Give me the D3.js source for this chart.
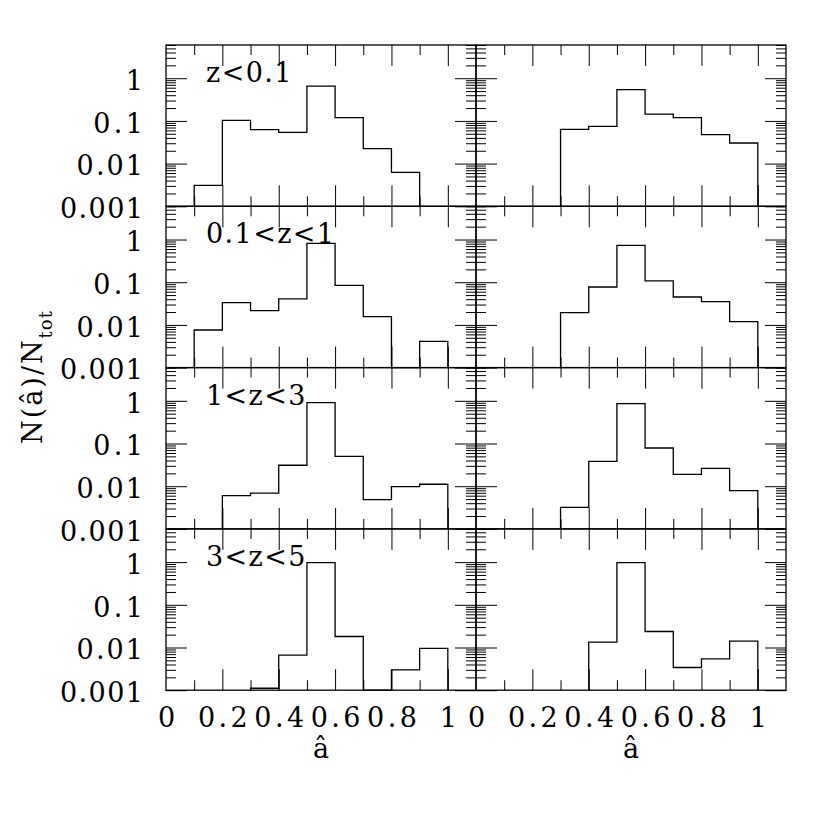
<!DOCTYPE html>
<html>
<head>
<meta charset="utf-8">
<script src="https://cdn.jsdelivr.net/npm/d3@7"></script>
<style>
  body { margin: 0; background: #ffffff; }
  text { font-family: "DejaVu Serif", "Liberation Serif", serif; font-size: 27px; fill: #000000; }
</style>
</head>
<body>
<div id="chart"></div>
<script>
// Histogram bin edges in a-hat (bin width 0.1)
var binEdges = [0.1, 0.2, 0.3, 0.4, 0.5, 0.6, 0.7, 0.8, 0.9, 1.0];

// Redshift range of each row
var rowLabels = ['z<0.1', '0.1<z<1', '1<z<3', '3<z<5'];

// N(a)/Ntot per bin, left column (0 = empty bin)
var leftRow1 = [0.0031, 0.103, 0.0625, 0.054, 0.656, 0.119, 0.0225, 0.00625, 0];
var leftRow2 = [0.0076, 0.0333, 0.0216, 0.0405, 0.815, 0.0846, 0.0156, 0, 0.0041];
var leftRow3 = [0, 0.006, 0.0069, 0.031, 0.908, 0.050, 0.00486, 0.0098, 0.0111];
var leftRow4 = [0, 0, 0.00111, 0.0066, 0.97, 0.0181, 0, 0.003, 0.0095];

// N(a)/Ntot per bin, right column
var rightRow1 = [0, 0, 0.0636, 0.0748, 0.54, 0.145, 0.119, 0.0477, 0.0304];
var rightRow2 = [0, 0, 0.0194, 0.0773, 0.731, 0.107, 0.045, 0.0351, 0.0119];
var rightRow3 = [0, 0, 0.0032, 0.0383, 0.86, 0.0785, 0.019, 0.0262, 0.0079];
var rightRow4 = [0, 0, 0, 0.0133, 0.97, 0.0237, 0.0034, 0.0054, 0.0141];

// Tick values and labels
var xTickValues = [0, 0.2, 0.4, 0.6, 0.8, 1];
var xTickLabels = ['0', '0.2', '0.4', '0.6', '0.8', '1'];
var xMajorTicks = [0.2, 0.4, 0.6, 0.8, 1.0];
var xMinorTicks = [0.1, 0.3, 0.5, 0.7, 0.9];
var yTickValues = [0.001, 0.01, 0.1, 1];
var yTickLabels = ['0.001', '0.01', '0.1', '1'];

var columns = [
  [leftRow1, leftRow2, leftRow3, leftRow4],
  [rightRow1, rightRow2, rightRow3, rightRow4]
];

// Layout
var outerWidth = 830, outerHeight = 830;
var margin = {top: 45, left: 166};
var panelWidth = 310, panelHeight = 161.3;
var majorLen = 21, minorLen = 10;
var charWidth = 16.6;

var svg = d3.select('#chart').append('svg')
  .attr('width', outerWidth)
  .attr('height', outerHeight);

var x = d3.scaleLinear().domain([0, 1.1]).range([0, panelWidth]);
var y = d3.scaleLog().domain([0.001, 6]).range([panelHeight, 0]);
var yMin = y.domain()[0];

// minor log ticks are the 2..9 steps of every decade
var yMinorTicks = y.ticks().filter(function(d) {
  return yTickValues.indexOf(d) < 0 && d > yMin;
});

var line = d3.line()
  .x(function(d) { return x(d.a); })
  .y(function(d) { return y(Math.max(d.n, yMin)); });

// Build the outline of a step histogram, dropping to the floor for empty bins
function stepPoints(values) {
  var first = values.findIndex(function(v) { return v > 0; });
  var last = values.length - 1 - values.slice().reverse().findIndex(function(v) { return v > 0; });
  var pts = [{a: binEdges[first], n: 0}];
  for (var i = first; i <= last; i++) {
    pts.push({a: binEdges[i], n: values[i]});
    pts.push({a: binEdges[i + 1], n: values[i]});
  }
  pts.push({a: binEdges[last + 1], n: 0});
  return pts;
}

function tickGroup(g, axis, values, size, transform) {
  var t = g.append('g')
    .attr('transform', transform)
    .call(axis.tickValues(values).tickSize(size).tickSizeOuter(0).tickFormat(''));
  t.select('.domain').remove();
  t.selectAll('text').remove();
  t.selectAll('line').attr('stroke', '#000').attr('stroke-width', 1);
  return t;
}

function fitText(sel, labels) {
  sel.selectAll('text').each(function(d, i) {
    var s = labels[i];
    if (s.length > 1) {
      d3.select(this)
        .attr('textLength', s.length * charWidth)
        .attr('lengthAdjust', 'spacing');
    }
  });
}

columns.forEach(function(col, c) {
  col.forEach(function(values, r) {
    var px = margin.left + c * panelWidth;
    var py = margin.top + r * panelHeight;
    var g = svg.append('g')
      .attr('transform', 'translate(' + px + ',' + py + ')');

    // inward ticks on all four sides
    tickGroup(g, d3.axisRight(y), yTickValues, majorLen, null);
    tickGroup(g, d3.axisRight(y), yMinorTicks, minorLen, null);
    tickGroup(g, d3.axisLeft(y), yTickValues, majorLen, 'translate(' + panelWidth + ',0)');
    tickGroup(g, d3.axisLeft(y), yMinorTicks, minorLen, 'translate(' + panelWidth + ',0)');
    tickGroup(g, d3.axisBottom(x), xMajorTicks, majorLen, null);
    tickGroup(g, d3.axisBottom(x), xMinorTicks, minorLen, null);
    tickGroup(g, d3.axisTop(x), xMajorTicks, majorLen, 'translate(0,' + panelHeight + ')');
    tickGroup(g, d3.axisTop(x), xMinorTicks, minorLen, 'translate(0,' + panelHeight + ')');

    // frame
    g.append('rect')
      .attr('width', panelWidth)
      .attr('height', panelHeight)
      .attr('fill', 'none')
      .attr('stroke', '#000')
      .attr('stroke-width', 1.3);

    // histogram
    g.append('path')
      .attr('d', line(stepPoints(values)))
      .attr('fill', 'none')
      .attr('stroke', '#000')
      .attr('stroke-width', 1.3);

    // redshift label on the left column
    if (c === 0) {
      g.append('text')
        .attr('x', 40)
        .attr('y', 37)
        .style('letter-spacing', '1.4px')
        .text(rowLabels[r]);

      var yl = g.append('g')
        .call(d3.axisLeft(y).tickValues(yTickValues)
          .tickFormat(function(d, i) { return yTickLabels[i]; })
          .tickSize(0).tickPadding(23));
      yl.select('.domain').remove();
      yl.selectAll('text').attr('dy', '0.42em');
      fitText(yl, yTickLabels);
    }

    // x labels and title on the bottom row
    if (r === col.length - 1) {
      var xl = g.append('g')
        .attr('transform', 'translate(0,' + panelHeight + ')')
        .call(d3.axisBottom(x).tickValues(xTickValues)
          .tickFormat(function(d, i) { return xTickLabels[i]; })
          .tickSize(0).tickPadding(18));
      xl.select('.domain').remove();
      xl.selectAll('text').attr('dy', '0.7em');
      fitText(xl, xTickLabels);

      g.append('text')
        .attr('x', panelWidth / 2)
        .attr('y', panelHeight + 68)
        .attr('text-anchor', 'middle')
        .text('\u00e2');
    }
  });
});

// y axis title
var yTitle = svg.append('text')
  .attr('transform', 'translate(42,377) rotate(-90)')
  .attr('text-anchor', 'middle')
  .style('font-size', '27px')
  .style('letter-spacing', '2px');
yTitle.append('tspan').text('N(\u00e2)/N');
yTitle.append('tspan')
  .attr('dy', 10)
  .style('font-size', '18px')
  .style('letter-spacing', '1px')
  .text('tot');
</script>
</body>
</html>
